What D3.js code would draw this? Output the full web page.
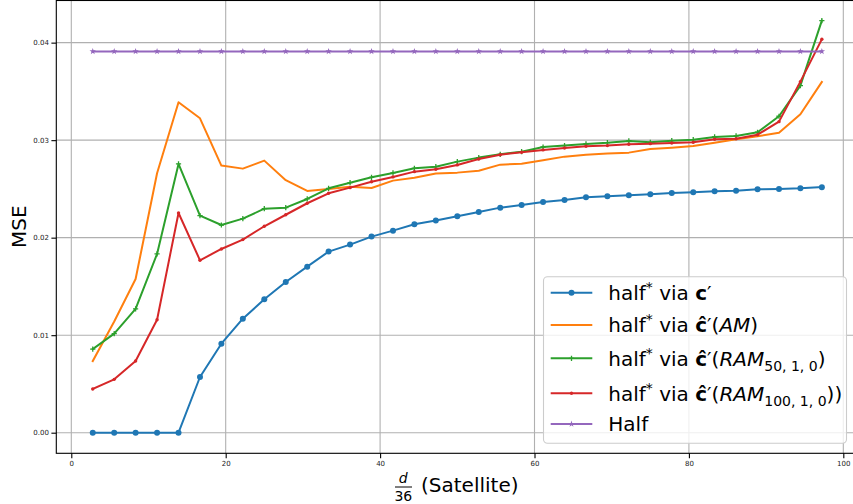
<!DOCTYPE html>
<html>
<head>
<meta charset="utf-8">
<script src="https://cdn.jsdelivr.net/npm/d3@7"></script>
<style>
  html, body { margin: 0; padding: 0; background: #fff; }
  svg { display: block; font-family: "DejaVu Sans", sans-serif; }
</style>
</head>
<body>
<svg id="chart" width="853" height="504"></svg>
<script>
// ---- data ----
const xValues = [2.78, 5.56, 8.33, 11.11, 13.89, 16.67, 19.44, 22.22, 25.0, 27.78,
  30.56, 33.33, 36.11, 38.89, 41.67, 44.44, 47.22, 50.0, 52.78, 55.56,
  58.33, 61.11, 63.89, 66.67, 69.44, 72.22, 75.0, 77.78, 80.56, 83.33,
  86.11, 88.89, 91.67, 94.44, 97.22];

const viaC = [0, 0, 0, 0, 0, 0.00571, 0.00913, 0.01169, 0.01368, 0.01546,
  0.01703, 0.01857, 0.01929, 0.02011, 0.02072, 0.02137, 0.02175, 0.02219, 0.02264, 0.02308,
  0.02335, 0.02366, 0.02387, 0.02414, 0.02424, 0.02435, 0.02445, 0.02458, 0.02465, 0.02475,
  0.02482, 0.02496, 0.02499, 0.02506, 0.02518];

const viaAM = [0.00735, 0.01140, 0.01576, 0.02660, 0.03389, 0.03224, 0.02739, 0.02708, 0.02790, 0.02590,
  0.02479, 0.02500, 0.02523, 0.02510, 0.02585, 0.02615, 0.02657, 0.02667, 0.02687, 0.02749,
  0.02759, 0.02794, 0.02831, 0.02851, 0.02862, 0.02872, 0.02910, 0.02923, 0.02940, 0.02974,
  0.03009, 0.03040, 0.03077, 0.03265, 0.03597];

const viaRAM50 = [0.00858, 0.01016, 0.01269, 0.01833, 0.02756, 0.02226, 0.02130, 0.02195, 0.02297, 0.02308,
  0.02397, 0.02506, 0.02564, 0.02619, 0.02664, 0.02711, 0.02728, 0.02780, 0.02821, 0.02855,
  0.02882, 0.02930, 0.02944, 0.02961, 0.02974, 0.02992, 0.02978, 0.02995, 0.03005, 0.03033,
  0.03043, 0.03081, 0.03245, 0.03559, 0.04226];

const viaRAM100 = [0.00448, 0.00547, 0.00735, 0.01159, 0.02253, 0.01768, 0.01884, 0.01980, 0.02117, 0.02235,
  0.02353, 0.02455, 0.02513, 0.02574, 0.02623, 0.02677, 0.02701, 0.02746, 0.02807, 0.02851,
  0.02876, 0.02900, 0.02920, 0.02937, 0.02944, 0.02958, 0.02964, 0.02971, 0.02978, 0.03009,
  0.03015, 0.03056, 0.03190, 0.03600, 0.04035];

const halfValues = [0.0391, 0.0391, 0.0391, 0.0391, 0.0391, 0.0391, 0.0391, 0.0391, 0.0391, 0.0391,
  0.0391, 0.0391, 0.0391, 0.0391, 0.0391, 0.0391, 0.0391, 0.0391, 0.0391, 0.0391,
  0.0391, 0.0391, 0.0391, 0.0391, 0.0391, 0.0391, 0.0391, 0.0391, 0.0391, 0.0391,
  0.0391, 0.0391, 0.0391, 0.0391, 0.0391];

const xTicks = [0, 20, 40, 60, 80, 100];
const yTicks = [0.00, 0.01, 0.02, 0.03, 0.04];
const yTickLabels = ["0.00", "0.01", "0.02", "0.03", "0.04"];

const seriesNames = ["viaC", "viaAM", "viaRAM50", "viaRAM100", "half"];
const seriesColors = ["#1f77b4", "#ff7f0e", "#2ca02c", "#d62728", "#9467bd"];
const seriesMarkers = ["circle", "none", "plus", "dot", "star"];

// ---- layout ----
const svg = d3.select("#chart");
const mLeft = 56.3, mTop = 0, plotW = 802, plotH = 453.3;

function padded(lo, hi) { const m = (hi - lo) * 0.05; return [lo - m, hi + m]; }
const allY = viaC.concat(viaAM, viaRAM50, viaRAM100, halfValues);
const x = d3.scaleLinear().domain(padded(d3.min(xValues), d3.max(xValues))).range([mLeft, mLeft + plotW]);
const y = d3.scaleLinear().domain(padded(d3.min(allY), d3.max(allY))).range([mTop + plotH, mTop]);

const clipId = "plotclip";
svg.append("defs").append("clipPath").attr("id", clipId)
  .append("rect").attr("x", mLeft).attr("y", mTop).attr("width", plotW).attr("height", plotH);

// grid
const grid = svg.append("g");
xTicks.forEach(t => grid.append("line")
  .attr("x1", x(t)).attr("x2", x(t)).attr("y1", mTop).attr("y2", mTop + plotH)
  .attr("stroke", "#b0b0b0").attr("stroke-width", 1.1));
yTicks.forEach(t => grid.append("line")
  .attr("x1", mLeft).attr("x2", mLeft + plotW).attr("y1", y(t)).attr("y2", y(t))
  .attr("stroke", "#b0b0b0").attr("stroke-width", 1.1));

// axes
const xAxis = d3.axisBottom(x).tickValues(xTicks).tickFormat(d3.format("d")).tickSize(4.9).tickPadding(2.5);
const yAxis = d3.axisLeft(y).tickValues(yTicks).tickFormat((d, i) => yTickLabels[i]).tickSize(4.9).tickPadding(2.5);
const gx = svg.append("g").attr("transform", `translate(0,${mTop + plotH})`).call(xAxis);
const gy = svg.append("g").attr("transform", `translate(${mLeft},0)`).call(yAxis);
[gx, gy].forEach(g => {
  g.select(".domain").remove();
  g.selectAll(".tick line").attr("stroke", "#000").attr("stroke-width", 1.1);
  g.selectAll(".tick text").attr("fill", "#222").attr("font-size", 7).attr("font-family", "DejaVu Sans");
});

// spines
svg.append("rect").attr("x", mLeft).attr("y", mTop + 0.5).attr("width", plotW).attr("height", plotH - 0.5)
  .attr("fill", "none").attr("stroke", "#000").attr("stroke-width", 1.1);

// markers
function plusPath(s) { return `M${-s},0L${s},0M0,${-s}L0,${s}`; }
function drawMarker(g, type, color, cx, cy) {
  if (type === "circle") {
    g.append("circle").attr("cx", cx).attr("cy", cy).attr("r", 3).attr("fill", color);
  } else if (type === "dot") {
    g.append("circle").attr("cx", cx).attr("cy", cy).attr("r", 1.7).attr("fill", color);
  } else if (type === "plus") {
    g.append("path").attr("d", plusPath(2.6)).attr("transform", `translate(${cx},${cy})`)
      .attr("stroke", color).attr("stroke-width", 1.3).attr("fill", "none");
  } else if (type === "star") {
    g.append("path").attr("d", d3.symbol(d3.symbolStar, 13)()).attr("transform", `translate(${cx},${cy})`)
      .attr("fill", color);
  }
}

const seriesData = [viaC, viaAM, viaRAM50, viaRAM100, halfValues];
const plotG = svg.append("g").attr("clip-path", `url(#${clipId})`);
const line = d3.line().x((d, i) => x(xValues[i])).y(d => y(d));
seriesData.forEach((vals, si) => {
  const g = plotG.append("g");
  g.append("path").datum(vals).attr("d", line).attr("fill", "none")
    .attr("stroke", seriesColors[si]).attr("stroke-width", 2).attr("stroke-linejoin", "round").attr("stroke-linecap", "square");
  vals.forEach((v, i) => drawMarker(g, seriesMarkers[si], seriesColors[si], x(xValues[i]), y(v)));
});

// axis labels
svg.append("text").attr("transform", `translate(26,${mTop + plotH / 2}) rotate(-90)`)
  .attr("text-anchor", "middle").attr("font-size", 20).attr("fill", "#000").text("MSE");

const xl = svg.append("g");
xl.append("text").attr("x", 403.3).attr("y", 483).attr("text-anchor", "middle")
  .attr("font-size", 14).attr("font-style", "italic").text("d");
xl.append("line").attr("x1", 395).attr("x2", 412).attr("y1", 487).attr("y2", 487)
  .attr("stroke", "#000").attr("stroke-width", 1);
xl.append("text").attr("x", 403.3).attr("y", 500.5).attr("text-anchor", "middle")
  .attr("font-size", 14).text("36");
xl.append("text").attr("x", 421).attr("y", 492).attr("font-size", 20).text("(Satellite)");

// legend
const lg = svg.append("g");
lg.append("rect").attr("x", 543.5).attr("y", 276.7).attr("width", 303).attr("height", 166.6)
  .attr("rx", 4).attr("ry", 4).attr("fill", "#fff").attr("fill-opacity", 0.8)
  .attr("stroke", "#cccccc").attr("stroke-width", 1.1);

const rowCenters = [292.7, 325, 358.3, 393.3, 424];
const legendParts = [
  [["half"], ["*", "sup"], [" via "], ["c", "bold"], ["′"]],
  [["half"], ["*", "sup"], [" via "], ["ĉ", "bold"], ["′("], ["AM", "it"], [")"]],
  [["half"], ["*", "sup"], [" via "], ["ĉ", "bold"], ["′("], ["RAM", "it"], ["50, 1, 0", "sub"], [")"]],
  [["half"], ["*", "sup"], [" via "], ["ĉ", "bold"], ["′("], ["RAM", "it"], ["100, 1, 0", "sub"], ["))"]],
  [["Half"]]
];
rowCenters.forEach((cy, i) => {
  lg.append("line").attr("x1", 550.7).attr("x2", 592.3).attr("y1", cy).attr("y2", cy)
    .attr("stroke", seriesColors[i]).attr("stroke-width", 2);
  drawMarker(lg, seriesMarkers[i], seriesColors[i], 571.5, cy);
  const t = lg.append("text").attr("x", 608.3).attr("y", cy + 7.2).attr("font-size", 20).attr("fill", "#000");
  let shift = 0;
  legendParts[i].forEach(([s, kind]) => {
    const ts = t.append("tspan").text(s);
    let target = 0;
    if (kind === "sup") { target = -8; ts.attr("font-size", 14); }
    if (kind === "sub") { target = 5; ts.attr("font-size", 14); }
    if (kind === "bold") ts.attr("font-weight", "bold");
    if (kind === "it") ts.attr("font-style", "italic");
    if (target !== shift) { ts.attr("dy", target - shift); shift = target; }
  });
});
</script>
</body>
</html>
